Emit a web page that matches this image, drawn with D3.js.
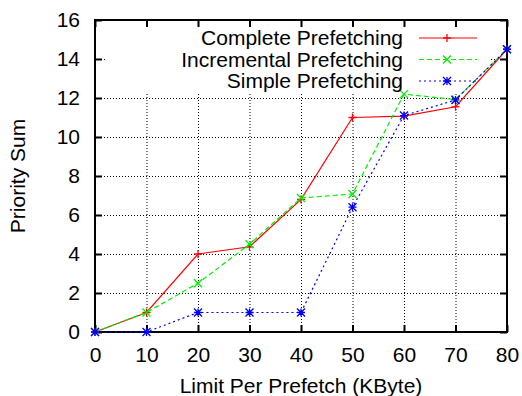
<!DOCTYPE html>
<html>
<head>
<meta charset="utf-8">
<script src="https://cdn.jsdelivr.net/npm/d3@7"></script>
<style>
body { margin: 0; background: #fff; }
text { font-family: "Liberation Sans", Arial, sans-serif; fill: #000; }
</style>
</head>
<body>
<div id="chart"></div>
<script>
var limits = [0, 10, 20, 30, 40, 50, 60, 70, 80];
var complete = [0, 1, 4, 4.37, 6.8, 11, 11.07, 11.55, 14.5];
var incremental = [0, 1, 2.5, 4.5, 6.87, 7.08, 12.2, 11.92, 14.5];
var simple = [0, 0, 1, 1, 1, 6.4, 11.1, 11.9, 14.5];
var seriesNames = ['Complete Prefetching', 'Incremental Prefetching', 'Simple Prefetching'];
var xTicks = [0, 10, 20, 30, 40, 50, 60, 70, 80];
var yTicks = [0, 2, 4, 6, 8, 10, 12, 14, 16];

var W = 522, H = 396;
var margin = {left: 95, right: 15, top: 20, bottom: 64};
var fs = 21;

var svg = d3.select('#chart')
    .append('svg')
    .attr('width', W)
    .attr('height', H);

var x = d3.scaleLinear().domain([0, 80]).range([margin.left, W - margin.right]);
var y = d3.scaleLinear().domain([0, 16]).range([H - margin.bottom, margin.top]);

// grid
var grid = svg.append('g')
    .attr('stroke', '#000')
    .attr('stroke-width', 1)
    .attr('stroke-dasharray', '1,2');
grid.selectAll('.gx').data(xTicks.slice(1, -1)).enter().append('line')
    .attr('x1', function(d) { return x(d) + 0.5; })
    .attr('x2', function(d) { return x(d) + 0.5; })
    .attr('y1', y(0)).attr('y2', y(16));
grid.selectAll('.gy').data(yTicks.slice(1, -1)).enter().append('line')
    .attr('y1', function(d) { return y(d) + 0.5; })
    .attr('y2', function(d) { return y(d) + 0.5; })
    .attr('x1', x(0)).attr('x2', x(80));

// opaque key box
svg.append('rect')
    .attr('x', 106).attr('y', 22)
    .attr('width', 384).attr('height', 70)
    .attr('fill', '#fff');

// axes with inward ticks on all four sides
var tickLen = 7;
svg.append('g')
    .attr('transform', 'translate(0,' + y(0) + ')')
    .call(d3.axisBottom(x).tickValues(xTicks).tickSize(-tickLen).tickPadding(tickLen + 8))
    .call(function(g) { g.select('.domain').remove(); });
svg.append('g')
    .attr('transform', 'translate(0,' + y(16) + ')')
    .call(d3.axisTop(x).tickValues(xTicks).tickSize(-tickLen).tickFormat(''))
    .call(function(g) { g.select('.domain').remove(); });
svg.append('g')
    .attr('transform', 'translate(' + x(0) + ',0)')
    .call(d3.axisLeft(y).tickValues(yTicks).tickSize(-tickLen).tickPadding(tickLen + 8))
    .call(function(g) { g.select('.domain').remove(); });
svg.append('g')
    .attr('transform', 'translate(' + x(80) + ',0)')
    .call(d3.axisRight(y).tickValues(yTicks).tickSize(-tickLen).tickFormat(''))
    .call(function(g) { g.select('.domain').remove(); });

svg.selectAll('.tick line').attr('stroke', '#000').attr('stroke-width', 2);
svg.selectAll('.tick text')
    .attr('font-size', fs)
    .attr('font-family', '"Liberation Sans", Arial, sans-serif');

svg.append('rect')
    .attr('x', x(0)).attr('y', y(16))
    .attr('width', x(80) - x(0)).attr('height', y(0) - y(16))
    .attr('fill', 'none')
    .attr('stroke', '#000')
    .attr('stroke-width', 2);

// series
var series = [
    {name: seriesNames[0], values: complete, color: '#ff0000', dash: null, mark: 'plus'},
    {name: seriesNames[1], values: incremental, color: '#00ee00', dash: '5,3', mark: 'cross'},
    {name: seriesNames[2], values: simple, color: '#0000ff', dash: '2,3', mark: 'star'}
];

var markPath = function(type, r) {
    var p = 'M' + (-r) + ',0H' + r + 'M0,' + (-r) + 'V' + r;
    var c = 'M' + (-r) + ',' + (-r) + 'L' + r + ',' + r + 'M' + (-r) + ',' + r + 'L' + r + ',' + (-r);
    if (type == 'plus') return p;
    if (type == 'cross') return c;
    return p + c;
};

var line = d3.line()
    .x(function(d, i) { return x(limits[i]); })
    .y(function(d) { return y(d); });

series.forEach(function(s) {
    svg.append('path')
        .datum(s.values)
        .attr('d', line)
        .attr('fill', 'none')
        .attr('stroke', s.color)
        .attr('stroke-width', 1.2)
        .attr('stroke-dasharray', s.dash);
    svg.selectAll(null).data(s.values).enter().append('path')
        .attr('transform', function(d, i) { return 'translate(' + x(limits[i]) + ',' + y(d) + ')'; })
        .attr('d', markPath(s.mark, 4))
        .attr('stroke', s.color)
        .attr('stroke-width', 1.3)
        .attr('fill', 'none');
});

// legend
var key = svg.append('g');
series.forEach(function(s, i) {
    var ky = 38 + i * 21.5;
    key.append('text')
        .attr('x', 403).attr('y', ky)
        .attr('dy', '0.35em')
        .attr('text-anchor', 'end')
        .attr('font-size', fs)
        .text(s.name);
    key.append('line')
        .attr('x1', 419).attr('x2', 477)
        .attr('y1', ky).attr('y2', ky)
        .attr('stroke', s.color)
        .attr('stroke-width', 1.2)
        .attr('stroke-dasharray', s.dash);
    key.append('path')
        .attr('transform', 'translate(447,' + ky + ')')
        .attr('d', markPath(s.mark, 4))
        .attr('stroke', s.color)
        .attr('stroke-width', 1.3)
        .attr('fill', 'none');
});

// axis titles
svg.append('text')
    .attr('x', (x(0) + x(80)) / 2)
    .attr('y', 393)
    .attr('text-anchor', 'middle')
    .attr('font-size', fs)
    .text('Limit Per Prefetch (KByte)');
svg.append('text')
    .attr('transform', 'translate(25,' + (y(0) + y(16)) / 2 + ') rotate(-90)')
    .attr('text-anchor', 'middle')
    .attr('font-size', fs)
    .text('Priority Sum');
</script>
</body>
</html>
